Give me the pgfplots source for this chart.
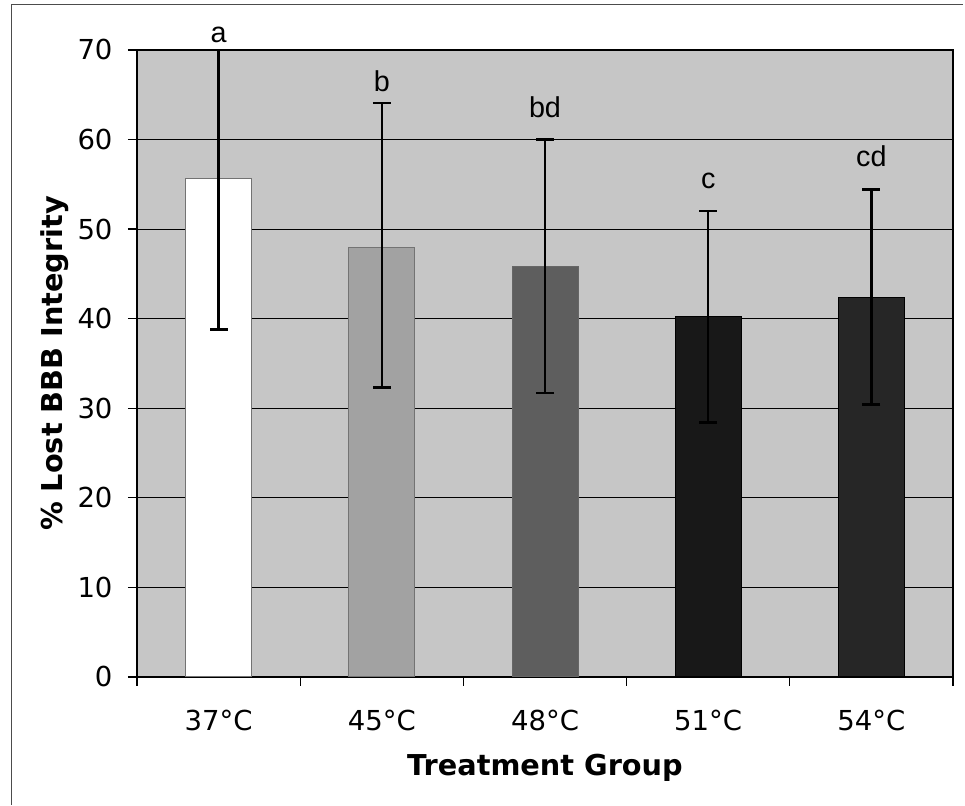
\documentclass[border=0pt]{standalone}
\usepackage{pgfplots}
\pgfplotsset{compat=1.18}
\usepackage{fontspec}
\setmainfont{DejaVu Sans}
\newfontfamily\arialfont{Liberation Sans}
\definecolor{bgcol}{HTML}{C6C6C6}
\definecolor{cA}{HTML}{FFFFFF}
\definecolor{cB}{HTML}{A2A2A2}
\definecolor{cC}{HTML}{5E5E5E}
\definecolor{cD}{HTML}{181818}
\definecolor{cE}{HTML}{262626}

\begin{document}
\begin{tikzpicture}
\begin{axis}[
  scale only axis,
  width=326.4pt, height=250.8pt,
  xmin=-0.5, xmax=4.5,
  ymin=0, ymax=70,
  ytick={0,10,...,70},
  xtick={-0.5,0.5,...,4.5},
  xticklabels={37°C,45°C,48°C,51°C,54°C},
  x tick label as interval,
  tick align=outside,
  major tick length=3.6pt,
  tick style={black, line width=0.5pt},
  xtick pos=bottom, ytick pos=left,
  ymajorgrids=true,
  grid style={black, line width=0.45pt},
  axis background/.style={fill=bgcol},
  axis line style={black, line width=0.6pt},
  /pgf/number format/assume math mode=true,
  ticklabel style={font=\fontsize{11}{13}\selectfont},
  yticklabel style={anchor=east, inner sep=0pt, xshift=-6pt},
  xticklabel style={anchor=base, inner sep=0pt, yshift=-18pt},
  xlabel={Treatment Group},
  ylabel={\% Lost BBB Integrity},
  xlabel style={font=\fontsize{11.5}{13}\selectfont\bfseries,
    at={(rel axis cs:0.5,-0.157)}, anchor=base},
  ylabel style={font=\fontsize{11.5}{13}\selectfont\bfseries,
    at={(rel axis cs:-0.1005,0.5)}, anchor=center, rotate=0},
  bar width=26.4pt,
  clip=false,
  error bars/error bar style={black, line width=1pt},
  error bars/error mark options={rotate=90, mark size=3.6pt, line width=1pt, black},
]

% bars with error bars (mean, +err, -err); 37C upper whisker is cut at the axis top
\addplot[ybar, bar shift=0pt, fill=cA, draw=black!55, line width=0.4pt,
  error bars/.cd, y dir=both, y explicit]
  coordinates {(0,55.7) += (0,14.3) -= (0,16.9)};
\addplot[ybar, bar shift=0pt, fill=cB, draw=black!55, line width=0.4pt,
  error bars/.cd, y dir=both, y explicit]
  coordinates {(1,48.0) += (0,16.1) -= (0,15.7)};
\addplot[ybar, bar shift=0pt, fill=cC, draw=black!60, line width=0.4pt,
  error bars/.cd, y dir=both, y explicit]
  coordinates {(2,45.8) += (0,14.2) -= (0,14.1)};
\addplot[ybar, bar shift=0pt, fill=cD, draw=black, line width=0.4pt,
  error bars/.cd, y dir=both, y explicit]
  coordinates {(3,40.2) += (0,11.8) -= (0,11.8)};
\addplot[ybar, bar shift=0pt, fill=cE, draw=black, line width=0.4pt,
  error bars/.cd, y dir=both, y explicit]
  coordinates {(4,42.4) += (0,12.0) -= (0,12.0)};

% significance letters (baseline positions)
\addplot[only marks, mark=none, point meta=explicit symbolic,
  nodes near coords,
  nodes near coords style={anchor=base, inner sep=0pt, yshift=0pt,
    font=\arialfont\fontsize{11.5}{13}\selectfont, text=black}]
  coordinates {(0,70.8)[a] (1,65.4)[b] (2,62.5)[bd] (3,54.5)[c] (4,57.0)[cd]};

% chart area border (left and top) and page extent
\draw[black!70, line width=0.4pt]
  (rel axis cs:-0.1544,-0.2041) -- (rel axis cs:-0.1544,1.0718)
  -- (rel axis cs:1.0123,1.0718);
\path (rel axis cs:-0.1679,-0.2041) rectangle (rel axis cs:1.0147,1.0797);
\end{axis}
\end{tikzpicture}
\end{document}
